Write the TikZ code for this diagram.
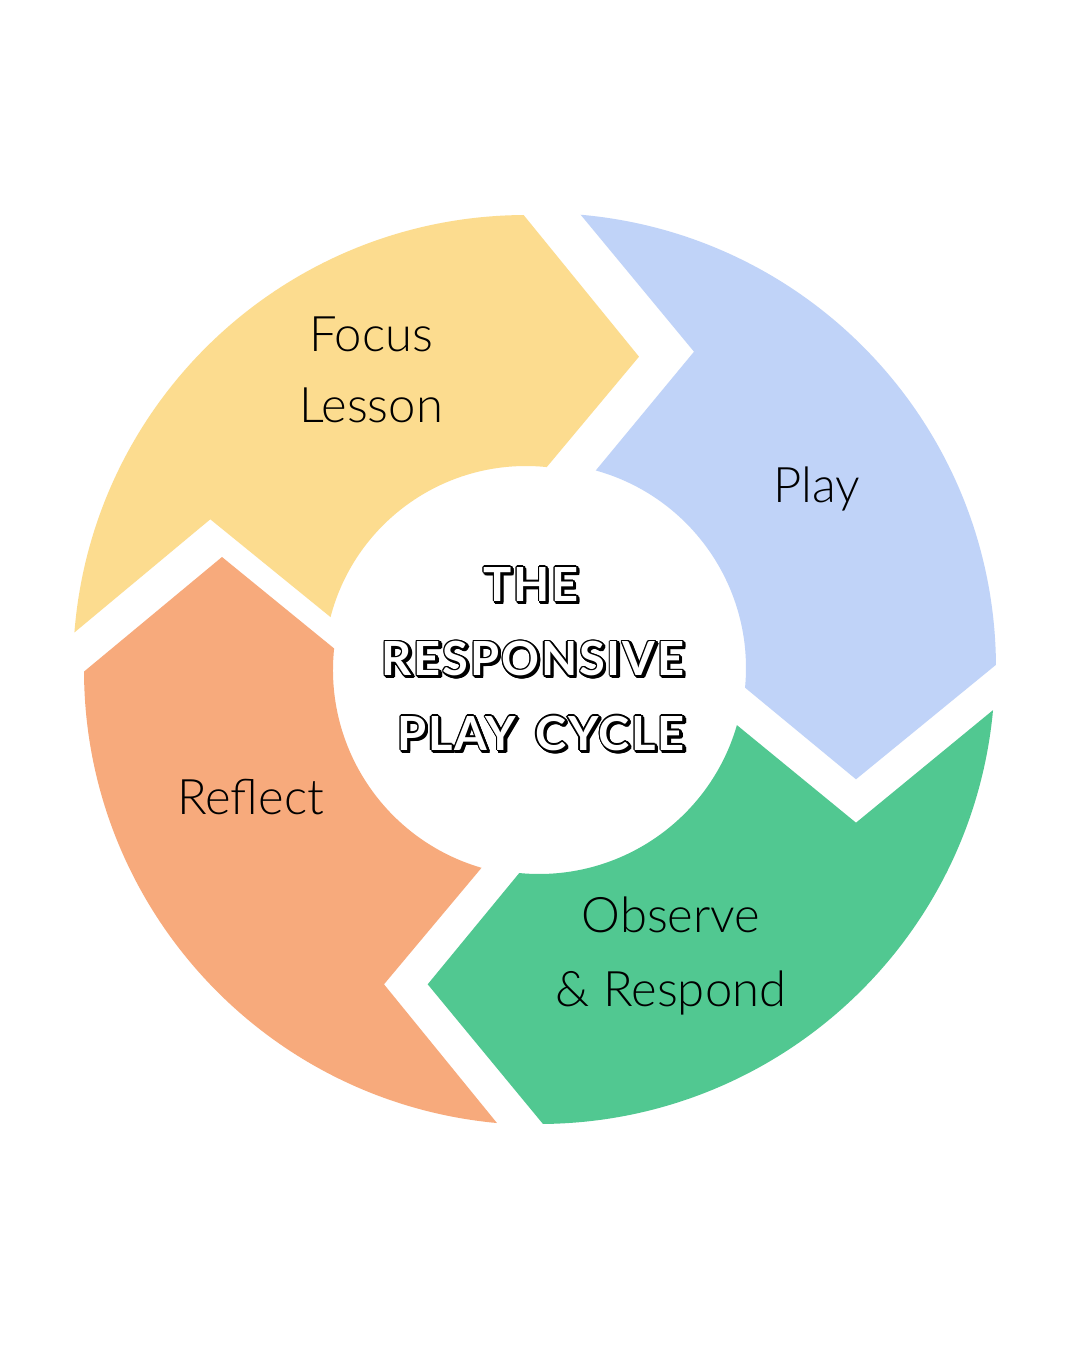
\documentclass[tikz,border=0pt]{standalone}
\usepackage{fontspec}
\setmainfont{Lato}
\newfontfamily\labelfont{Lato Light}
\newfontfamily\titlefont{Lato}[LetterSpace=4]
\definecolor{focusyellow}{HTML}{FCDC8F}
\definecolor{playblue}{HTML}{C0D3F8}
\definecolor{observegreen}{HTML}{51C891}
\definecolor{reflectorange}{HTML}{F7AA7C}

% white letters with a black rim and a drop shadow
\newcommand\cycletitle[1]{%
  \foreach \s in {0,0.35,...,1.4}{%
    \foreach \a in {0,45,...,315}{%
      \pgfmathsetlengthmacro\ox{\s+0.65*cos(\a)}%
      \pgfmathsetlengthmacro\oy{-\s+0.65*sin(\a)}%
      \rlap{\kern\ox\raise\oy\hbox{\color{black}#1}}}}%
  \textcolor{white}{#1}}

\tikzset{
  steplabel/.style={font=\labelfont\fontsize{24.5}{36}\selectfont, text=black, align=center, anchor=base, inner sep=0pt},
  titlelabel/.style={font=\titlefont\bfseries\fontsize{23.5}{37.25}\selectfont, align=center, anchor=base, inner sep=0pt}
}

\begin{document}
\begin{tikzpicture}[x=0.5pt,y=0.5pt]
\useasboundingbox (-539,-680) rectangle (541,670);
\fill[white] (-539,-680) rectangle (541,670);

\begin{scope}[shift={(-13,2)}]
\fill[focusyellow] (175.5:453) arc[start angle=175.5, end angle=90.3, radius=453] -- (113,311.3)
  -- (84.1:202) arc[start angle=84.1, end angle=165.4, radius=202] -- (-315.7,148.7) -- cycle;
\end{scope}
\begin{scope}[shift={(2,2)}]
\fill[playblue] (85:455) arc[start angle=85, end angle=0.4, radius=455] -- (315,-111.3)
  -- (-5.5:205) arc[start angle=-5.5, end angle=74.5, radius=205] -- (153,316.3) -- cycle;
\end{scope}
\begin{scope}[shift={(0,2)}]
\fill[observegreen] (-5.3:456) arc[start angle=-5.3, end angle=-89.5, radius=456] -- (-111.3,-316.3)
  -- (-95.5:206) arc[start angle=-95.5, end angle=-16.1, radius=206] -- (317,-154.7) -- cycle;
\end{scope}
\fill[reflectorange] (264.7:455) arc[start angle=264.7, end angle=180.2, radius=455] -- (-317,113)
  -- (174:206) arc[start angle=174, end angle=253.8, radius=206] -- (-155,-314.3) -- cycle;

\node[steplabel] (focus) at (-168,247) {Focus\\Lesson};
\node[steplabel] (play) at (278,167) {Play};
\node[steplabel, font=\labelfont\fontsize{24.5}{37}\selectfont] (observe) at (132,-336) {Observe\\\& Respond};
\node[steplabel] (reflect) at (-288.5,-144.3) {Reflect};

\node[titlelabel] (title) at (-6,-80) {\cycletitle{THE}\kern2pt\\\cycletitle{RESPONSIVE}\\\kern8pt\cycletitle{PLAY\hskip9.5pt CYCLE}};
\end{tikzpicture}
\end{document}
